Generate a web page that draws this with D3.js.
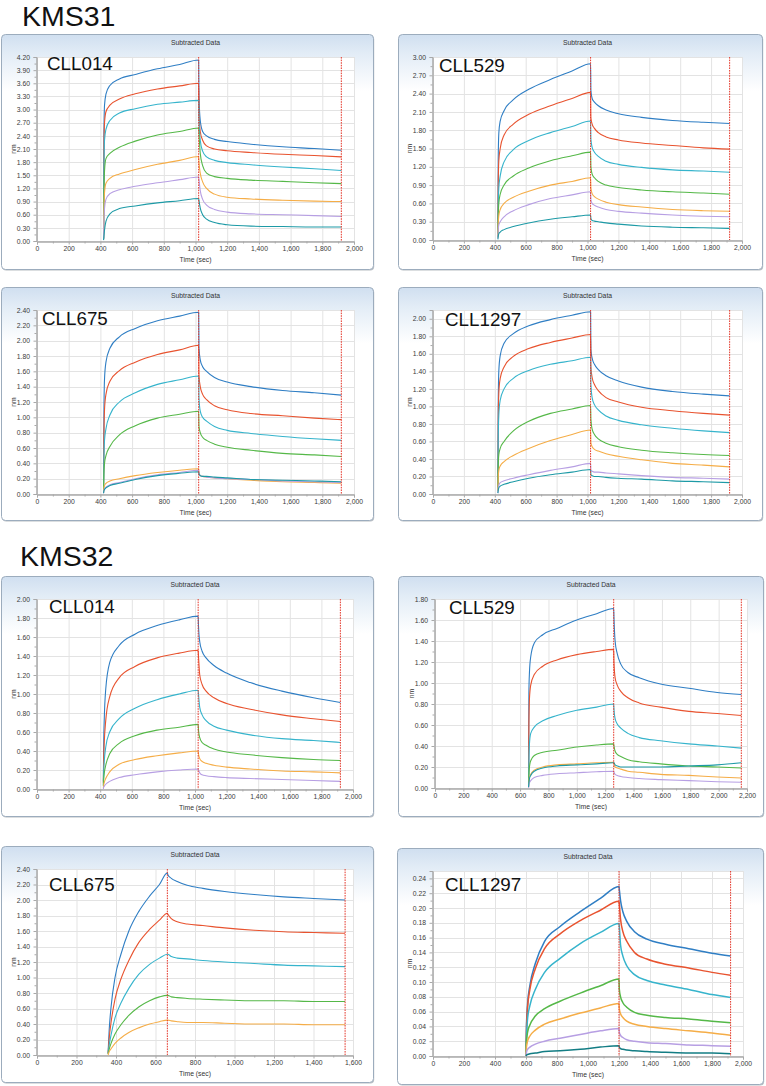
<!DOCTYPE html>
<html><head><meta charset="utf-8">
<script src="https://cdn.jsdelivr.net/npm/d3@7"></script>
<style>html,body{margin:0;padding:0;background:#fff;} svg{display:block;font-family:"Liberation Sans",Arial,sans-serif;}</style>
</head><body><svg id="c" width="766" height="1086"></svg>
<script>
// ---------------- DATA ----------------
const groupLabels = ["KMS31", "KMS32"];
const panelTitles = ["CLL014", "CLL529", "CLL675", "CLL1297", "CLL014", "CLL529", "CLL675", "CLL1297"];
const chartTitle = "Subtracted Data";
const xAxisTitle = "Time (sec)";
const yAxisTitle = "nm";
const xMax = [2000, 2000, 2000, 2000, 2000, 2200, 1600, 2000];
const yMax = [4.2, 3.0, 2.4, 2.1, 2.0, 1.8, 2.4, 0.25];
const yStep = [0.3, 0.3, 0.2, 0.2, 0.2, 0.2, 0.2, 0.02];
const xStep = [200, 200, 200, 200, 200, 200, 200, 200];
const stepMarkers = [[1020, 1920], [1020, 1920], [1020, 1920], [1020, 1920], [1020, 1920], [1260, 2160], [660, 1560], [1200, 1920]];
const seriesColors = ["#2f7ec4", "#e8532f", "#36b4cc", "#55b848", "#f5ad47", "#b79fe3", "#1d9aa6"];

const timesA = [420, 422, 426, 435, 460, 520, 620, 760, 900, 1020, 1022, 1030, 1045, 1070, 1120, 1200, 1350, 1550, 1750, 1920];
const timesB = [660, 662, 666, 675, 700, 760, 860, 1000, 1140, 1260, 1262, 1270, 1285, 1310, 1360, 1440, 1590, 1790, 1990, 2160];
const timesC = [360, 365, 375, 395, 425, 465, 515, 570, 620, 660, 662, 680, 710, 760, 840, 950, 1100, 1250, 1400, 1560];
const timesD = [600, 603, 610, 625, 660, 720, 820, 950, 1080, 1200, 1202, 1210, 1225, 1250, 1300, 1380, 1500, 1650, 1800, 1920];

// order of series: blue, red, cyan, green, orange, lavender, teal
const kms31_cll014 = [
  [0.05, 2.4, 3.1, 3.35, 3.55, 3.7, 3.8, 3.93, 4.03, 4.13, 3.3, 2.75, 2.5, 2.4, 2.32, 2.27, 2.21, 2.15, 2.11, 2.07],
  [0.05, 2.0, 2.7, 2.95, 3.1, 3.24, 3.36, 3.47, 3.54, 3.6, 2.95, 2.5, 2.3, 2.17, 2.1, 2.06, 2.02, 1.98, 1.95, 1.92],
  [0.05, 1.6, 2.3, 2.55, 2.75, 2.92, 3.02, 3.12, 3.17, 3.21, 2.75, 2.3, 2.05, 1.92, 1.84, 1.79, 1.74, 1.69, 1.65, 1.61],
  [0.05, 0.9, 1.6, 1.88, 2.0, 2.14, 2.28, 2.42, 2.5, 2.58, 2.45, 2.0, 1.72, 1.55, 1.47, 1.43, 1.39, 1.36, 1.33, 1.31],
  [0.05, 0.6, 1.1, 1.32, 1.43, 1.53, 1.63, 1.75, 1.84, 1.93, 1.8, 1.55, 1.35, 1.2, 1.07, 1.0, 0.96, 0.93, 0.91, 0.9],
  [0.03, 0.4, 0.75, 0.95, 1.08, 1.17, 1.25, 1.33, 1.4, 1.46, 1.4, 1.15, 0.95, 0.82, 0.72, 0.66, 0.62, 0.6, 0.58, 0.56],
  [0.02, 0.1, 0.25, 0.45, 0.62, 0.74, 0.8, 0.87, 0.92, 0.97, 0.92, 0.75, 0.6, 0.5, 0.42, 0.37, 0.34, 0.33, 0.32, 0.32]
];
const kms31_cll529 = [
  [0.1, 1.3, 1.75, 1.95, 2.12, 2.3, 2.47, 2.63, 2.77, 2.89, 2.45, 2.32, 2.26, 2.2, 2.13, 2.07, 2.01, 1.96, 1.93, 1.91],
  [0.08, 0.9, 1.3, 1.5, 1.72, 1.9, 2.06, 2.2, 2.32, 2.42, 2.0, 1.9, 1.83, 1.76, 1.69, 1.64, 1.59, 1.55, 1.51, 1.49],
  [0.06, 0.5, 0.85, 1.05, 1.28, 1.48, 1.63, 1.76, 1.86, 1.95, 1.65, 1.52, 1.44, 1.37, 1.29, 1.24, 1.19, 1.15, 1.13, 1.11],
  [0.05, 0.35, 0.6, 0.75, 0.9, 1.05, 1.18, 1.3, 1.38, 1.44, 1.2, 1.08, 1.02, 0.96, 0.9, 0.86, 0.82, 0.79, 0.77, 0.75],
  [0.04, 0.25, 0.4, 0.5, 0.6, 0.7, 0.8, 0.9, 0.96, 1.02, 0.85, 0.76, 0.71, 0.67, 0.62, 0.58, 0.54, 0.5, 0.48, 0.47],
  [0.03, 0.15, 0.25, 0.3, 0.38, 0.48, 0.58, 0.68, 0.74, 0.79, 0.66, 0.6, 0.57, 0.54, 0.5, 0.47, 0.44, 0.41, 0.39, 0.38],
  [0.01, 0.06, 0.1, 0.13, 0.17, 0.22, 0.28, 0.34, 0.38, 0.41, 0.35, 0.32, 0.31, 0.3, 0.28, 0.26, 0.23, 0.21, 0.2, 0.19]
];
const kms31_cll675 = [
  [0.1, 1.0, 1.5, 1.72, 1.9, 2.05, 2.16, 2.26, 2.32, 2.37, 1.9, 1.75, 1.66, 1.6, 1.52, 1.46, 1.4, 1.35, 1.32, 1.29],
  [0.08, 0.7, 1.1, 1.3, 1.47, 1.61, 1.72, 1.82, 1.88, 1.94, 1.55, 1.4, 1.3, 1.23, 1.15, 1.1, 1.05, 1.02, 0.99, 0.97],
  [0.06, 0.45, 0.7, 0.85, 1.03, 1.2, 1.32, 1.43, 1.49, 1.54, 1.25, 1.08, 1.0, 0.95, 0.88, 0.83, 0.79, 0.75, 0.72, 0.7],
  [0.04, 0.25, 0.4, 0.5, 0.62, 0.77, 0.89, 0.99, 1.04, 1.08, 0.88, 0.8, 0.74, 0.7, 0.65, 0.61, 0.57, 0.53, 0.51, 0.49],
  [0.02, 0.07, 0.11, 0.14, 0.17, 0.2, 0.24, 0.28, 0.31, 0.33, 0.27, 0.24, 0.23, 0.22, 0.21, 0.2, 0.18, 0.16, 0.15, 0.14],
  [0.01, 0.04, 0.07, 0.09, 0.12, 0.15, 0.2, 0.25, 0.28, 0.31, 0.26, 0.24, 0.23, 0.22, 0.21, 0.2, 0.19, 0.17, 0.16, 0.15],
  [0.01, 0.04, 0.06, 0.08, 0.11, 0.14, 0.19, 0.24, 0.27, 0.29, 0.26, 0.24, 0.23, 0.23, 0.22, 0.21, 0.19, 0.18, 0.17, 0.16]
];
const kms31_cll1297 = [
  [0.1, 1.0, 1.4, 1.58, 1.72, 1.83, 1.92, 1.99, 2.04, 2.08, 1.65, 1.55, 1.48, 1.42, 1.35, 1.29, 1.22, 1.17, 1.14, 1.12],
  [0.08, 0.8, 1.15, 1.32, 1.45, 1.57, 1.66, 1.73, 1.78, 1.82, 1.45, 1.33, 1.25, 1.18, 1.1, 1.05, 0.99, 0.95, 0.92, 0.9],
  [0.06, 0.6, 0.9, 1.07, 1.2, 1.32, 1.41, 1.48, 1.52, 1.56, 1.25, 1.1, 1.02, 0.96, 0.89, 0.84, 0.79, 0.75, 0.72, 0.7],
  [0.04, 0.3, 0.45, 0.52, 0.6, 0.72, 0.83, 0.92, 0.97, 1.01, 0.85, 0.74, 0.68, 0.63, 0.58, 0.54, 0.5, 0.47, 0.45, 0.44],
  [0.03, 0.18, 0.27, 0.32, 0.37, 0.44, 0.52, 0.61, 0.68, 0.73, 0.58, 0.54, 0.51, 0.49, 0.46, 0.43, 0.39, 0.35, 0.33, 0.31],
  [0.01, 0.06, 0.1, 0.13, 0.15, 0.18, 0.22, 0.27, 0.31, 0.35, 0.27, 0.26, 0.25, 0.25, 0.24, 0.23, 0.21, 0.19, 0.18, 0.17],
  [0.01, 0.04, 0.07, 0.09, 0.11, 0.14, 0.18, 0.22, 0.25, 0.28, 0.22, 0.21, 0.2, 0.2, 0.19, 0.18, 0.17, 0.15, 0.14, 0.13]
];
const kms32_cll014 = [
  [0.08, 0.45, 0.75, 1.05, 1.33, 1.51, 1.63, 1.72, 1.78, 1.82, 1.72, 1.55, 1.45, 1.38, 1.3, 1.22, 1.12, 1.03, 0.96, 0.91],
  [0.06, 0.3, 0.5, 0.72, 0.97, 1.17, 1.29, 1.38, 1.43, 1.46, 1.4, 1.2, 1.1, 1.03, 0.96, 0.9, 0.84, 0.78, 0.74, 0.71],
  [0.04, 0.18, 0.3, 0.44, 0.6, 0.74, 0.85, 0.94, 1.0, 1.04, 1.0, 0.86, 0.78, 0.72, 0.66, 0.62, 0.57, 0.53, 0.51, 0.49],
  [0.03, 0.1, 0.17, 0.25, 0.37, 0.48, 0.56, 0.62, 0.65, 0.68, 0.62, 0.54, 0.49, 0.46, 0.42, 0.39, 0.36, 0.33, 0.31, 0.3],
  [0.01, 0.04, 0.07, 0.11, 0.18, 0.26, 0.31, 0.35, 0.38, 0.4, 0.37, 0.32, 0.29, 0.27, 0.25, 0.23, 0.21, 0.19, 0.18, 0.17],
  [0.0, 0.02, 0.03, 0.05, 0.08, 0.12, 0.15, 0.18, 0.2, 0.21, 0.2, 0.17, 0.15, 0.14, 0.13, 0.12, 0.11, 0.1, 0.09, 0.08]
];
const kms32_cll529 = [
  [0.05, 0.9, 1.1, 1.25, 1.38, 1.46, 1.52, 1.6, 1.66, 1.71, 1.62, 1.4, 1.28, 1.18, 1.1, 1.05, 0.99, 0.95, 0.91, 0.89],
  [0.05, 0.6, 0.85, 0.98, 1.08, 1.16, 1.22, 1.27, 1.3, 1.32, 1.2, 1.05, 0.98, 0.92, 0.86, 0.81, 0.77, 0.73, 0.71, 0.69],
  [0.03, 0.25, 0.42, 0.52, 0.58, 0.64, 0.69, 0.74, 0.77, 0.8, 0.75, 0.66, 0.61, 0.57, 0.52, 0.48, 0.45, 0.42, 0.4, 0.38],
  [0.02, 0.12, 0.2, 0.26, 0.31, 0.34, 0.36, 0.39, 0.41, 0.42, 0.4, 0.35, 0.32, 0.3, 0.27, 0.25, 0.23, 0.21, 0.2, 0.19],
  [0.01, 0.06, 0.1, 0.13, 0.17, 0.2, 0.22, 0.23, 0.24, 0.245, 0.23, 0.2, 0.19, 0.18, 0.16, 0.15, 0.13, 0.12, 0.105, 0.095],
  [0.0, 0.03, 0.05, 0.07, 0.1, 0.12, 0.135, 0.145, 0.155, 0.16, 0.15, 0.13, 0.12, 0.11, 0.1, 0.09, 0.08, 0.07, 0.06, 0.055],
  [0.01, 0.05, 0.09, 0.12, 0.16, 0.19, 0.21, 0.22, 0.23, 0.24, 0.24, 0.22, 0.21, 0.2, 0.2, 0.2, 0.2, 0.21, 0.22, 0.24]
];
const kms32_cll675 = [
  [0.03, 0.3, 0.62, 1.0, 1.3, 1.6, 1.85, 2.05, 2.2, 2.35, 2.33, 2.28, 2.24, 2.19, 2.15, 2.11, 2.07, 2.04, 2.02, 2.0],
  [0.02, 0.2, 0.42, 0.72, 0.98, 1.22, 1.45, 1.62, 1.74, 1.83, 1.82, 1.76, 1.72, 1.69, 1.67, 1.64, 1.61, 1.59, 1.58, 1.57],
  [0.02, 0.12, 0.26, 0.48, 0.67, 0.86, 1.04, 1.17, 1.25, 1.3, 1.3, 1.27, 1.25, 1.24, 1.22, 1.2, 1.18, 1.16, 1.15, 1.14],
  [0.01, 0.07, 0.15, 0.27, 0.39, 0.51, 0.62, 0.7, 0.75, 0.77, 0.77, 0.75, 0.74, 0.73, 0.72, 0.71, 0.7, 0.7, 0.69, 0.69],
  [0.0, 0.04, 0.08, 0.15, 0.22, 0.29, 0.35, 0.4, 0.43, 0.45, 0.45, 0.44, 0.43, 0.42, 0.42, 0.41, 0.4, 0.4, 0.39, 0.39]
];
const kms32_cll1297 = [
  [0.0, 0.04, 0.07, 0.095, 0.125, 0.155, 0.175, 0.195, 0.213, 0.229, 0.225, 0.21, 0.195, 0.182, 0.168, 0.158, 0.151, 0.145, 0.139, 0.135],
  [0.0, 0.035, 0.065, 0.09, 0.118, 0.145, 0.165, 0.183, 0.197, 0.209, 0.205, 0.185, 0.168, 0.155, 0.14, 0.131, 0.124, 0.119, 0.113, 0.109],
  [0.0, 0.025, 0.05, 0.068, 0.09, 0.113, 0.132, 0.152, 0.167, 0.179, 0.175, 0.15, 0.135, 0.122, 0.11, 0.102, 0.096, 0.09, 0.083, 0.079],
  [0.0, 0.02, 0.032, 0.042, 0.054, 0.064, 0.074, 0.085, 0.095, 0.104, 0.09, 0.08, 0.072, 0.066, 0.059, 0.055, 0.052, 0.05, 0.047, 0.045],
  [0.0, 0.012, 0.02, 0.027, 0.035, 0.043, 0.05, 0.058, 0.065, 0.071, 0.064, 0.057, 0.052, 0.047, 0.043, 0.04, 0.037, 0.034, 0.031, 0.028],
  [0.0, 0.005, 0.009, 0.012, 0.016, 0.02, 0.024, 0.029, 0.034, 0.037, 0.032, 0.028, 0.025, 0.022, 0.02, 0.018, 0.017, 0.015, 0.014, 0.013],
  [0.0, 0.001, 0.002, 0.003, 0.004, 0.006, 0.007, 0.009, 0.012, 0.014, 0.012, 0.01, 0.009, 0.008, 0.007, 0.006, 0.005, 0.004, 0.004, 0.003]
];

const panelSeries = [kms31_cll014, kms31_cll529, kms31_cll675, kms31_cll1297, kms32_cll014, kms32_cll529, kms32_cll675, kms32_cll1297];
const panelTimes = [timesA, timesA, timesA, timesA, timesA, timesB, timesC, timesD];

// ---------------- LAYOUT ----------------
const layout = [
  {box: [1, 34, 372, 235], plot: [37, 57, 317, 184], lab: [10, 13]},
  {box: [398, 34, 364, 235], plot: [433, 57, 309, 183], lab: [6, 15]},
  {box: [1, 287, 372, 233], plot: [37, 310, 317, 184], lab: [5, 15]},
  {box: [398, 287, 364, 233], plot: [433, 310, 309, 184], lab: [12, 16]},
  {box: [1, 576, 372, 240], plot: [37, 599, 316, 190], lab: [12, 14]},
  {box: [398, 576, 365, 240], plot: [435, 599, 312, 189], lab: [14, 15]},
  {box: [1, 846, 372, 236], plot: [37, 869, 316, 186], lab: [12, 22]},
  {box: [397, 848, 366, 236], plot: [433, 871, 310, 185], lab: [12, 20]}
];
const groupPos = [[22, 26], [20, 566]];

const svg = d3.select("#c");
const defs = svg.append("defs");
const grad = defs.append("linearGradient").attr("id", "bg").attr("x1", 0).attr("y1", 0).attr("x2", 0).attr("y2", 1);
grad.append("stop").attr("offset", "0%").attr("stop-color", "#d0dff0");
grad.append("stop").attr("offset", "8%").attr("stop-color", "#e2ecf6");
grad.append("stop").attr("offset", "24%").attr("stop-color", "#ffffff");

groupLabels.forEach((t, i) => {
  svg.append("text").attr("x", groupPos[i][0]).attr("y", groupPos[i][1])
    .attr("font-size", 28.5).attr("fill", "#111").text(t);
});

const fmtY = d3.format(".2f");
const fmtX = d3.format(",");
const tickFont = 6.8;

panelSeries.forEach((series, i) => {
  const L = layout[i];
  const [bx, by, bw, bh] = L.box;
  const [px, py, pw, ph] = L.plot;
  const g = svg.append("g");
  const clipId = "clip" + i;
  defs.append("clipPath").attr("id", clipId).append("rect")
    .attr("x", px).attr("y", py - 2).attr("width", pw + 1).attr("height", ph + 3);

  g.append("rect").attr("x", bx + 1.2).attr("y", by + 1.6).attr("width", bw).attr("height", bh)
    .attr("rx", 4).attr("fill", "#7d8690").attr("opacity", 0.55);
  g.append("rect").attr("x", bx + 0.5).attr("y", by + 0.5).attr("width", bw).attr("height", bh)
    .attr("rx", 4).attr("fill", "url(#bg)").attr("stroke", "#9cacbd").attr("stroke-width", 1);

  const x = d3.scaleLinear().domain([0, xMax[i]]).range([px, px + pw]);
  const y = d3.scaleLinear().domain([0, yMax[i]]).range([py + ph, py]);

  g.append("rect").attr("x", px).attr("y", py).attr("width", pw).attr("height", ph).attr("fill", "#fff");

  const xt = d3.range(0, xMax[i] + 1e-6, xStep[i]);
  const nY = Math.floor(yMax[i] / yStep[i] + 1e-6);
  const yt = d3.range(0, nY + 1).map(k => +(k * yStep[i]).toFixed(4));
  const xMinor = d3.range(xStep[i] / 2, xMax[i], xStep[i]);
  const yMinor = d3.range(0, nY + 1).map(k => +((k + 0.5) * yStep[i]).toFixed(4)).filter(v => v < yMax[i]);

  // gridlines
  g.append("g").selectAll("line.gx").data(xt).join("line")
    .attr("x1", d => x(d) + 0.5).attr("x2", d => x(d) + 0.5).attr("y1", py).attr("y2", py + ph)
    .attr("stroke", "#e3e3e3").attr("stroke-width", 1);
  g.append("g").selectAll("line.gy").data(yt.concat([yMax[i]])).join("line")
    .attr("x1", px).attr("x2", px + pw).attr("y1", d => Math.round(y(d)) + 0.5).attr("y2", d => Math.round(y(d)) + 0.5)
    .attr("stroke", "#e3e3e3").attr("stroke-width", 1);

  // axes
  const ax = g.append("g").attr("transform", `translate(0,${py + ph + 0.5})`)
    .call(d3.axisBottom(x).tickValues(xt).tickFormat(fmtX).tickSize(3).tickPadding(1.5));
  const axm = g.append("g").attr("transform", `translate(0,${py + ph + 0.5})`)
    .call(d3.axisBottom(x).tickValues(xMinor).tickFormat("").tickSize(2));
  const ay = g.append("g").attr("transform", `translate(${px - 0.5},0)`)
    .call(d3.axisLeft(y).tickValues(yt).tickFormat(fmtY).tickSize(3).tickPadding(3.5));
  const aym = g.append("g").attr("transform", `translate(${px - 0.5},0)`)
    .call(d3.axisLeft(y).tickValues(yMinor).tickFormat("").tickSize(2));
  [ax, axm, ay, aym].forEach(a => {
    a.select(".domain").attr("stroke", "#a9a9a9");
    a.selectAll(".tick line").attr("stroke", "#a9a9a9");
    a.selectAll("text").attr("font-size", tickFont).attr("fill", "#3a3a3a")
      .attr("font-family", "'Liberation Sans', Arial, sans-serif");
  });

  // titles
  g.append("text").attr("x", px + pw / 2).attr("y", by + 10.8).attr("text-anchor", "middle")
    .attr("font-size", 6.8).attr("fill", "#333").text(chartTitle);
  g.append("text").attr("x", px + pw / 2).attr("y", py + ph + 20.5).attr("text-anchor", "middle")
    .attr("font-size", 6.8).attr("fill", "#333").text(xAxisTitle);
  g.append("text").attr("transform", `translate(${px - 21},${py + ph / 2}) rotate(-90)`)
    .attr("text-anchor", "middle").attr("font-size", 6.8).attr("fill", "#333").text(yAxisTitle);

  // data lines
  const times = panelTimes[i];
  const line = d3.line().x(d => x(d[0])).y(d => y(d[1])).curve(d3.curveMonotoneX);
  const lg = g.append("g").attr("clip-path", `url(#${clipId})`);
  series.forEach((vals, s) => {
    let col = seriesColors[s];
    if (i === 7 && s === 6) col = "#137d84";
    lg.append("path").datum(vals.map((v, k) => [times[k], v]))
      .attr("d", line).attr("fill", "none").attr("stroke", col)
      .attr("stroke-width", i === 7 ? 1.5 : 1.1).attr("stroke-linejoin", "round");
  });

  // step markers (red dotted)
  g.append("g").selectAll("line").data(stepMarkers[i]).join("line")
    .attr("x1", d => x(d)).attr("x2", d => x(d)).attr("y1", py).attr("y2", py + ph)
    .attr("stroke", "#e4372a").attr("stroke-width", 1).attr("stroke-dasharray", "1.6,1");

  // panel label
  g.append("text").attr("x", px + L.lab[0]).attr("y", py + L.lab[1])
    .attr("font-size", 18.8).attr("fill", "#111").text(panelTitles[i]);
});
</script></body></html>
